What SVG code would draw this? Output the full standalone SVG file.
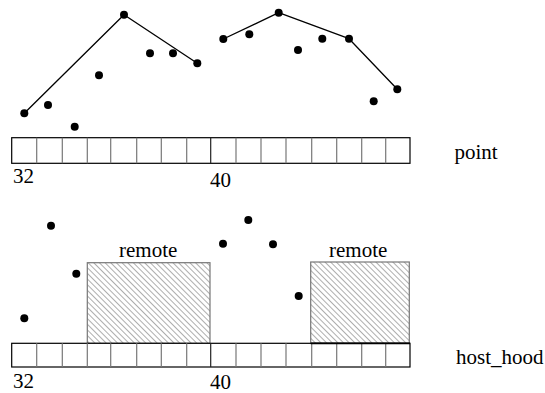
<svg xmlns="http://www.w3.org/2000/svg" width="545" height="393" viewBox="0 0 545 393">
  <style>
    .t { font-family: "Liberation Serif", "Times New Roman", serif; font-size: 21px; fill: #000; }
    .outer { fill: #fff; stroke: #000; stroke-width: 1.2; }
    .div { stroke: #777; stroke-width: 1.2; }
    .div40 { stroke: #222; stroke-width: 1.2; }
    .dot { fill: #000; }
    .poly { fill: none; stroke: #000; stroke-width: 1.3; stroke-linejoin: round; }
    .remote { fill: url(#hatch); stroke: #777; stroke-width: 1.2; }
  </style>
  <defs>
    <pattern id="hatch" patternUnits="userSpaceOnUse" width="4" height="4" patternTransform="rotate(-45)">
      <rect width="4" height="4" fill="#fff"/>
      <line x1="0" y1="0" x2="0" y2="4" stroke="#777" stroke-width="1.2"/>
    </pattern>
  </defs>
  <rect width="545" height="393" fill="#fff"/>

  <g id="point-array">
    <rect class="outer" x="11.7" y="137.7" width="398.3" height="25.6"/>
    <g class="div">
      <line x1="36.7" y1="137.7" x2="36.7" y2="163.3"/>
      <line x1="62.3" y1="137.7" x2="62.3" y2="163.3"/>
      <line x1="87.3" y1="137.7" x2="87.3" y2="163.3"/>
      <line x1="110.7" y1="137.7" x2="110.7" y2="163.3"/>
      <line x1="136.7" y1="137.7" x2="136.7" y2="163.3"/>
      <line x1="161.3" y1="137.7" x2="161.3" y2="163.3"/>
      <line x1="186.7" y1="137.7" x2="186.7" y2="163.3"/>
      <line x1="236" y1="137.7" x2="236" y2="163.3"/>
      <line x1="261" y1="137.7" x2="261" y2="163.3"/>
      <line x1="286" y1="137.7" x2="286" y2="163.3"/>
      <line x1="311.7" y1="137.7" x2="311.7" y2="163.3"/>
      <line x1="336.7" y1="137.7" x2="336.7" y2="163.3"/>
      <line x1="361.7" y1="137.7" x2="361.7" y2="163.3"/>
      <line x1="385.7" y1="137.7" x2="385.7" y2="163.3"/>
    </g>
    <line class="div40" x1="210.7" y1="137.7" x2="210.7" y2="163.3"/>
    <text class="t" x="13" y="182.7">32</text>
    <text class="t" x="210" y="187">40</text>
    <text class="t" x="454.5" y="158.5">point</text>
  </g>

  <g id="connectors">
    <polyline class="poly" points="24.3,113.3 124,14.7 197.3,63.3"/>
    <polyline class="poly" points="223.3,39 278.7,12.7 349,38.7 397.3,89.3"/>
  </g>

  <g id="point-dots">
    <circle class="dot" cx="24.3" cy="113.3" r="4"/>
    <circle class="dot" cx="48" cy="105" r="4"/>
    <circle class="dot" cx="74.7" cy="126.7" r="4"/>
    <circle class="dot" cx="99" cy="75.3" r="4"/>
    <circle class="dot" cx="124" cy="14.7" r="4"/>
    <circle class="dot" cx="150" cy="53.3" r="4"/>
    <circle class="dot" cx="173" cy="53.3" r="4"/>
    <circle class="dot" cx="197.3" cy="63.3" r="4"/>
    <circle class="dot" cx="223.3" cy="39" r="4"/>
    <circle class="dot" cx="249.3" cy="34.3" r="4"/>
    <circle class="dot" cx="278.7" cy="12.7" r="4"/>
    <circle class="dot" cx="298" cy="50" r="4"/>
    <circle class="dot" cx="322.3" cy="38.7" r="4"/>
    <circle class="dot" cx="349" cy="38.7" r="4"/>
    <circle class="dot" cx="373.7" cy="101.3" r="4"/>
    <circle class="dot" cx="397.3" cy="89.3" r="4"/>
  </g>

  <g id="remote-1">
    <rect class="remote" x="87.3" y="262.7" width="122.7" height="80.6"/>
    <text class="t" x="119" y="257">remote</text>
  </g>
  <g id="remote-2">
    <rect class="remote" x="310.7" y="262" width="98.6" height="81.3"/>
    <text class="t" x="329" y="257">remote</text>
  </g>

  <g id="host-hood-array">
    <rect x="11.7" y="343.3" width="398.3" height="23.7" fill="#fff" stroke="#000" stroke-width="1.2"/>
    <g class="div">
      <line x1="36.7" y1="343.3" x2="36.7" y2="367"/>
      <line x1="62.3" y1="343.3" x2="62.3" y2="367"/>
      <line x1="87.3" y1="343.3" x2="87.3" y2="367"/>
      <line x1="110.7" y1="343.3" x2="110.7" y2="367"/>
      <line x1="136.7" y1="343.3" x2="136.7" y2="367"/>
      <line x1="161.3" y1="343.3" x2="161.3" y2="367"/>
      <line x1="186.7" y1="343.3" x2="186.7" y2="367"/>
      <line x1="236" y1="343.3" x2="236" y2="367"/>
      <line x1="261" y1="343.3" x2="261" y2="367"/>
      <line x1="286" y1="343.3" x2="286" y2="367"/>
      <line x1="311.7" y1="343.3" x2="311.7" y2="367"/>
      <line x1="336.7" y1="343.3" x2="336.7" y2="367"/>
      <line x1="361.7" y1="343.3" x2="361.7" y2="367"/>
      <line x1="385.7" y1="343.3" x2="385.7" y2="367"/>
    </g>
    <line class="div40" x1="210.7" y1="343.3" x2="210.7" y2="367"/>
    <line x1="310.7" y1="343.3" x2="410" y2="343.3" stroke="#000" stroke-width="1.8"/>
    <text class="t" x="13" y="388">32</text>
    <text class="t" x="210" y="389">40</text>
    <text class="t" x="456" y="364">host_hood</text>
  </g>

  <g id="host-hood-dots">
    <circle class="dot" cx="24.3" cy="318.3" r="4"/>
    <circle class="dot" cx="51" cy="225.7" r="4"/>
    <circle class="dot" cx="76.3" cy="273.7" r="4"/>
    <circle class="dot" cx="223" cy="243.7" r="4"/>
    <circle class="dot" cx="248.3" cy="220" r="4"/>
    <circle class="dot" cx="273" cy="244.3" r="4"/>
    <circle class="dot" cx="298.7" cy="296" r="4"/>
  </g>
</svg>
